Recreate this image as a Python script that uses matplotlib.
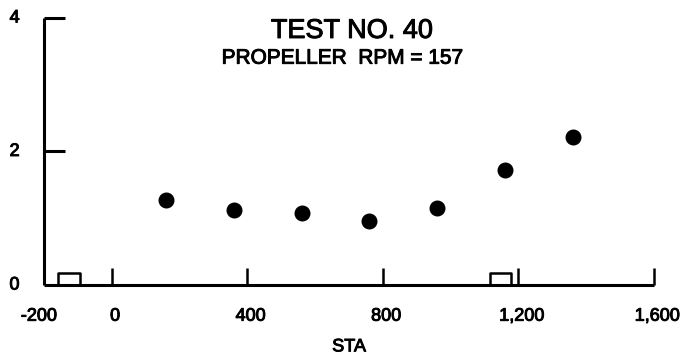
import matplotlib
matplotlib.use("Agg")
import matplotlib.pyplot as plt
import matplotlib.patheffects as pe

# station vs. value
sta = [160, 360, 560, 760, 960, 1160, 1360]
vals = [1.27, 1.13, 1.08, 0.96, 1.16, 1.72, 2.21]

# small open boxes sitting on the baseline (station spans)
box_spans = [(-160, -95), (1115, 1178)]
box_height = 0.18

x_ticks = [0, 400, 800, 1200, 1600]
x_ticklabels = ["0", "400", "800", "1,200", "1,600"]
y_ticks = [2, 4]

plt.rcParams['font.family'] = ['Liberation Sans', 'DejaVu Sans']

fig = plt.figure(figsize=(6.84, 3.57), dpi=100)
ax = fig.add_axes([0.0643, 0.2017, 0.8917, 0.748])
ax.set_xlim(-200, 1600)
ax.set_ylim(0, 4)

ax.plot(sta, vals, 'o', color='black', markersize=10.5, clip_on=False)

for x0, x1 in box_spans:
    ax.plot([x0, x0, x1, x1], [0, box_height, box_height, 0],
            color='black', lw=1.8, solid_joinstyle='round', clip_on=False)

for side in ['top', 'right']:
    ax.spines[side].set_visible(False)
for side in ['left', 'bottom']:
    ax.spines[side].set_linewidth(2.2)
    ax.spines[side].set_capstyle('butt')

ax.set_xticks(x_ticks)
ax.set_xticklabels([])
ax.set_yticks(y_ticks)
ax.set_yticklabels([])
ax.tick_params(axis='x', direction='in', length=12, width=1.8)
ax.tick_params(axis='y', direction='in', length=15, width=2.2)

thick = [pe.withStroke(linewidth=0.7, foreground='black')]
lab_kw = dict(fontsize=13, color='black', path_effects=thick)
trans_x = ax.get_xaxis_transform()
ax.text(-215, -0.085, "-200", transform=trans_x, ha='center', va='top', **lab_kw)
for t, lab in zip(x_ticks, x_ticklabels):
    ax.text(t + 10, -0.085, lab, transform=trans_x, ha='center', va='top', **lab_kw)

trans_y = ax.get_yaxis_transform()
for t in [0, 2, 4]:
    ax.text(-0.04, t, str(t), transform=trans_y, ha='right', va='center', **lab_kw)

ax.text(0.5, -0.2, "STA", transform=ax.transAxes, ha='center', va='top',
        **lab_kw)

ax.text(0.505, 1.0, "TEST NO. 40", transform=ax.transAxes, ha='center',
        va='top', fontsize=19.5, color='black', path_effects=thick)
ax.text(0.49, 0.885, "PROPELLER  RPM = 157", transform=ax.transAxes,
        ha='center', va='top', fontsize=15, color='black', path_effects=thick)

fig.savefig("out.png", dpi=100)
